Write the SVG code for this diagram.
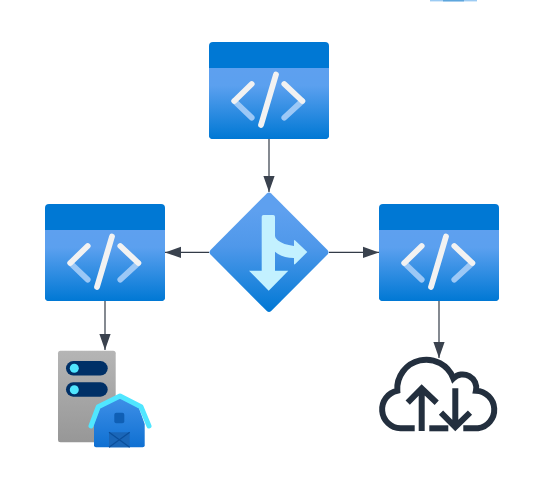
<svg xmlns="http://www.w3.org/2000/svg" xmlns:xlink="http://www.w3.org/1999/xlink" width="543" height="490" viewBox="0 0 543 490">
<style>
.conn{fill:none;stroke:#333b47;stroke-width:1.2}
.white{fill:none;stroke:#f2f2f2;stroke-width:5.8;stroke-linecap:round;stroke-linejoin:round}
.pale{fill:none;stroke:#9cc8f6;stroke-width:5.8;stroke-linecap:round}
.cloud{fill:none;stroke:#232f3e;stroke-width:6}
</style>
<defs>
<linearGradient id="blue" x1="0" y1="0" x2="0" y2="1"><stop offset="0" stop-color="#5ea0ef"/><stop offset="0.25" stop-color="#5ba0ef"/><stop offset="1" stop-color="#0078d4"/></linearGradient>
<linearGradient id="diamond" x1="0" y1="0" x2="0" y2="1"><stop offset="0.15" stop-color="#5ea0ef"/><stop offset="0.45" stop-color="#4f98ea"/><stop offset="1" stop-color="#0078d4"/></linearGradient>
<linearGradient id="grey" x1="0" y1="0" x2="0" y2="1"><stop offset="0" stop-color="#b5b5b5"/><stop offset="1" stop-color="#979797"/></linearGradient>
<linearGradient id="barn" x1="0" y1="0" x2="0" y2="1"><stop offset="0" stop-color="#3f90e8"/><stop offset="1" stop-color="#0f70d2"/></linearGradient>
<marker id="arrow" markerUnits="userSpaceOnUse" viewBox="0 0 16 12" refX="16" refY="6" markerWidth="16" markerHeight="12" orient="auto"><path d="M0 0.4L16 6L0 11.6Z" fill="#3a424e"/></marker>
<g id="card">
<rect x="0" y="0" width="120" height="97" rx="4" fill="#0078d4"/>
<path d="M0 26H120V93a4 4 0 0 1 -4 4H4a4 4 0 0 1 -4 -4Z" fill="url(#blue)"/>
<path class="pale" d="M25.3 59L42.7 75.7M93.3 59L75.3 75.7"/>
<path class="white" d="M42.7 42L25.3 59M75.3 42L93.3 59M67 32.5L52 83"/>
</g>
</defs>
<rect width="543" height="490" fill="#ffffff"/>
<g id="fragment-top">
<rect x="430" y="0" width="47" height="1.4" fill="#9ccbf3"/>
<rect x="443" y="0" width="21" height="1.4" fill="#5ea6dc"/>
</g>
<g id="connectors">
<path class="conn" marker-end="url(#arrow)" d="M269 139V192"/>
<path class="conn" marker-end="url(#arrow)" d="M209 252.4H165"/>
<path class="conn" marker-end="url(#arrow)" d="M329 252.4H379"/>
<path class="conn" marker-end="url(#arrow)" d="M105 301V350"/>
<path class="conn" marker-end="url(#arrow)" d="M439 301V358"/>
</g>
<g id="app-top"><use href="#card" xlink:href="#card" transform="translate(209 42)"/></g>
<g id="app-left"><use href="#card" xlink:href="#card" transform="translate(45 204)"/></g>
<g id="app-right"><use href="#card" xlink:href="#card" transform="translate(379 204)"/></g>
<g id="router">
<path d="M266.8 193.5Q269 191.5 271.2 193.5L327.5 250Q329.5 252.3 327.5 254.5L271.2 311Q269 313 266.8 311L210.5 254.5Q208.5 252.3 210.5 250Z" fill="url(#diamond)"/>
<path d="M263.5 215H273.2Q275 215 275 216.8V236Q275 238.5 278 240.5Q283 244.5 294 246V241Q294 239.5 295.2 240.5L307.3 252L295.2 264Q294 265 294 263.5V258Q282 258 275 251.7V270.7H288.3L268.7 290.7L249 270.7H261.7V216.8Q261.7 215 263.5 215Z" fill="#c3f1ff"/>
</g>
<g id="server-barn">
<rect x="58" y="350.7" width="57.7" height="91.6" rx="2.5" fill="url(#grey)"/>
<rect x="66" y="361" width="41.7" height="14.6" rx="7.3" fill="#003067"/>
<rect x="66" y="382.3" width="41.7" height="14.4" rx="7.2" fill="#003067"/>
<circle cx="74.3" cy="368.3" r="4.5" fill="#50e6ff"/>
<circle cx="74.3" cy="389.7" r="4.5" fill="#50e6ff"/>
<path d="M94 424L100 408L120 397L139 408L144.7 424V445.3Q144.7 447.3 142.7 447.3H96Q94 447.3 94 445.3Z" fill="url(#barn)"/>
<path d="M91 426L98.3 406.7L120 396L141 406.7L149 426" fill="none" stroke="#50e6ff" stroke-width="5" stroke-linecap="round" stroke-linejoin="round"/>
<rect x="114.3" y="412.7" width="10" height="10.6" rx="2" fill="#0f5fb5"/>
<rect x="109" y="432.3" width="20.7" height="15" fill="#1a66b8"/>
<path d="M109 432.3L129.7 447.3M129.7 432.3L109 447.3" stroke="#0b4f9c" stroke-width="1.2" fill="none"/>
</g>
<g id="cloud">
<path class="cloud" d="M414.7 428.3H400.5A19 19 0 0 1 397.3 390.7A29 29 0 0 1 453.3 378.3A13.5 13.5 0 0 1 476 390.7A18.9 18.9 0 0 1 478 428.3H463.3"/>
<path class="cloud" d="M429.3 428.3H448.3"/>
<path class="cloud" d="M421.7 431V389M407.7 402.7L421.7 388.5L436.7 402.7"/>
<path class="cloud" d="M455.3 388.3V426M441 412.7L455.3 427L470 412.7"/>
</g>
</svg>
